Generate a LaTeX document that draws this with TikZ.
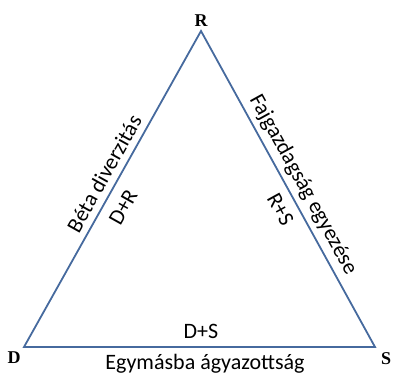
\documentclass[tikz,border=0pt]{standalone}
\usepackage{fontspec}
\setmainfont{Carlito}
\newfontfamily\vertfont{Liberation Serif}
\definecolor{edgeblue}{RGB}{70,106,158}
\begin{document}
\begin{tikzpicture}[x=1pt,y=-1pt,
  edge/.style={draw=edgeblue,line width=1.8pt,line join=miter},
  vlabel/.style={font=\vertfont\bfseries\fontsize{18}{18}\selectfont,inner sep=0pt},
  side/.style={font=\fontsize{22}{22}\selectfont,inner sep=0pt}]
\useasboundingbox (0,0) rectangle (393,375);
\coordinate (R) at (201,31);
\coordinate (D) at (24,347);
\coordinate (S) at (375,347);
\draw[edge] (D) -- (R) -- (S) -- cycle;
\node[vlabel] (lR) at (201,21) {R};
\node[vlabel] (lD) at (14,358) {D};
\node[vlabel] (lS) at (386,359) {S};
\path (D) -- (R) node[pos=0.526,sloped,anchor=south,side,yshift=7pt] (beta) {Béta diverzitás}
               node[pos=0.47,sloped,anchor=north,side,yshift=-11pt] (dr) {D+R};
\path (R) -- (S) node[pos=0.51,sloped,anchor=south,side,yshift=5.5pt] (faj) {Fajgazdagság egyezése}
               node[pos=0.54,sloped,anchor=north,side,yshift=-9pt] (rs) {R+S};
\node[side] (ds) at (201,331) {D+S};
\node[side] (egy) at (205,364) {Egymásba ágyazottság};
\end{tikzpicture}
\end{document}
